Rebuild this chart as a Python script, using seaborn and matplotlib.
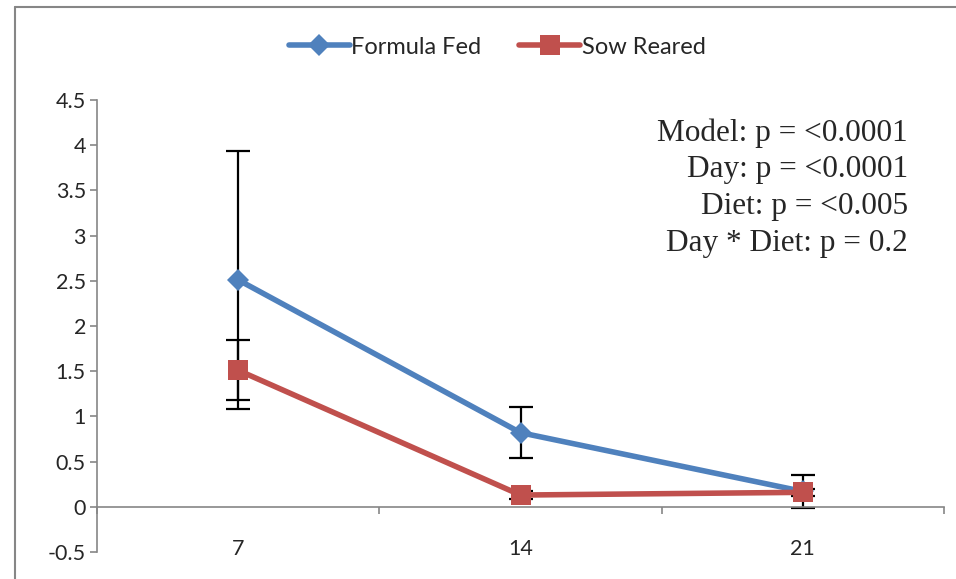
import matplotlib
matplotlib.use("Agg")
import matplotlib.pyplot as plt
from matplotlib.lines import Line2D
import seaborn as sns
import pandas as pd
import numpy as np

# Measured means and error-bar half widths by day
days = ["7", "14", "21"]
formula_fed = [2.51, 0.82, 0.17]
formula_err = [1.43, 0.28, 0.18]
sow_reared = [1.51, 0.13, 0.16]
sow_err = [0.33, 0.04, 0.04]
y_ticks = [-0.5, 0, 0.5, 1, 1.5, 2, 2.5, 3, 3.5, 4, 4.5]
stats_lines = ["Model: p = <0.0001", "Day: p = <0.0001",
               "Diet: p = <0.005", "Day * Diet: p = 0.2"]

BLUE = "#4F81BD"
RED = "#C0504D"
GREY = "#868686"

sns.set_style("white")
plt.rcParams["font.family"] = ["Lato", "DejaVu Sans"]

pos = np.arange(len(days))
df = pd.DataFrame({
    "pos": np.concatenate([pos, pos]),
    "value": formula_fed + sow_reared,
    "diet": ["Formula Fed"] * 3 + ["Sow Reared"] * 3,
})

W, H = 956, 579
fig = plt.figure(figsize=(W / 100, H / 100), dpi=100)
ax = fig.add_axes([97 / W, 1 - 552 / H, (944 - 97) / W, (552 - 100) / H])

# error bars sit beneath the series lines and markers
ax.errorbar(pos, formula_fed, yerr=formula_err, fmt="none", ecolor="black",
            elinewidth=1.6, capsize=8.5, capthick=1.6, zorder=1)
ax.errorbar(pos, sow_reared, yerr=sow_err, fmt="none", ecolor="black",
            elinewidth=1.6, capsize=8.5, capthick=1.6, zorder=1)

sns.lineplot(data=df, x="pos", y="value", hue="diet", style="diet",
             palette={"Formula Fed": BLUE, "Sow Reared": RED},
             markers={"Formula Fed": "D", "Sow Reared": "s"},
             dashes=False, linewidth=4.0, markersize=11,
             markeredgewidth=0, errorbar=None, legend=False, ax=ax, zorder=3)
for ln in ax.lines:
    if ln.get_marker() == "s":
        ln.set_markersize(14.5)

ax.set_xlim(-0.5, 2.5)
ax.set_ylim(-0.5, 4.5)
ax.set_xlabel("")
ax.set_ylabel("")

# axes styling
for side in ["top", "right"]:
    ax.spines[side].set_visible(False)
ax.spines["left"].set_color(GREY)
ax.spines["left"].set_linewidth(1.2)
ax.spines["bottom"].set_position(("data", 0))
ax.spines["bottom"].set_color(GREY)
ax.spines["bottom"].set_linewidth(1.2)

ax.set_yticks(y_ticks)
ax.set_yticklabels([f"{t:g}" for t in y_ticks])
ax.tick_params(axis="y", direction="out", length=5, width=1.2, color=GREY,
               labelsize=15.5, pad=3, left=True)
ax.set_xticks(pos)
ax.set_xticklabels(days)
ax.set_xticks([-0.5, 0.5, 1.5, 2.5], minor=True)
ax.tick_params(axis="x", which="major", length=0, labelsize=15.5, pad=23)
ax.tick_params(axis="x", which="minor", direction="out", length=5,
               width=1.2, color=GREY, bottom=True)

# legend
handles = [
    Line2D([], [], color=BLUE, lw=4.0, marker="D", ms=11, mew=0),
    Line2D([], [], color=RED, lw=4.0, marker="s", ms=14, mew=0),
]
fig.legend(handles, ["Formula Fed", "Sow Reared"], loc="center",
           bbox_to_anchor=(497 / W, 1 - 47 / H), ncol=2, frameon=False,
           fontsize=17, handlelength=2.6, handletextpad=0.05,
           columnspacing=1.6)

# statistics annotation
for i, s in enumerate(stats_lines):
    fig.text(908 / W, 1 - (133 + i * 36.7) / H, s, ha="right", va="center",
             fontsize=22.5, family=["Liberation Serif", "DejaVu Serif"])

# chart area border (top and left edges)
fig.add_artist(Line2D([14.5 / W, 14.5 / W], [0, 1 - 6.5 / H],
                      color=GREY, lw=1.5, transform=fig.transFigure))
fig.add_artist(Line2D([14.5 / W, 1], [1 - 6.5 / H, 1 - 6.5 / H],
                      color=GREY, lw=1.5, transform=fig.transFigure))

fig.savefig("out.png", dpi=100, facecolor="white")
